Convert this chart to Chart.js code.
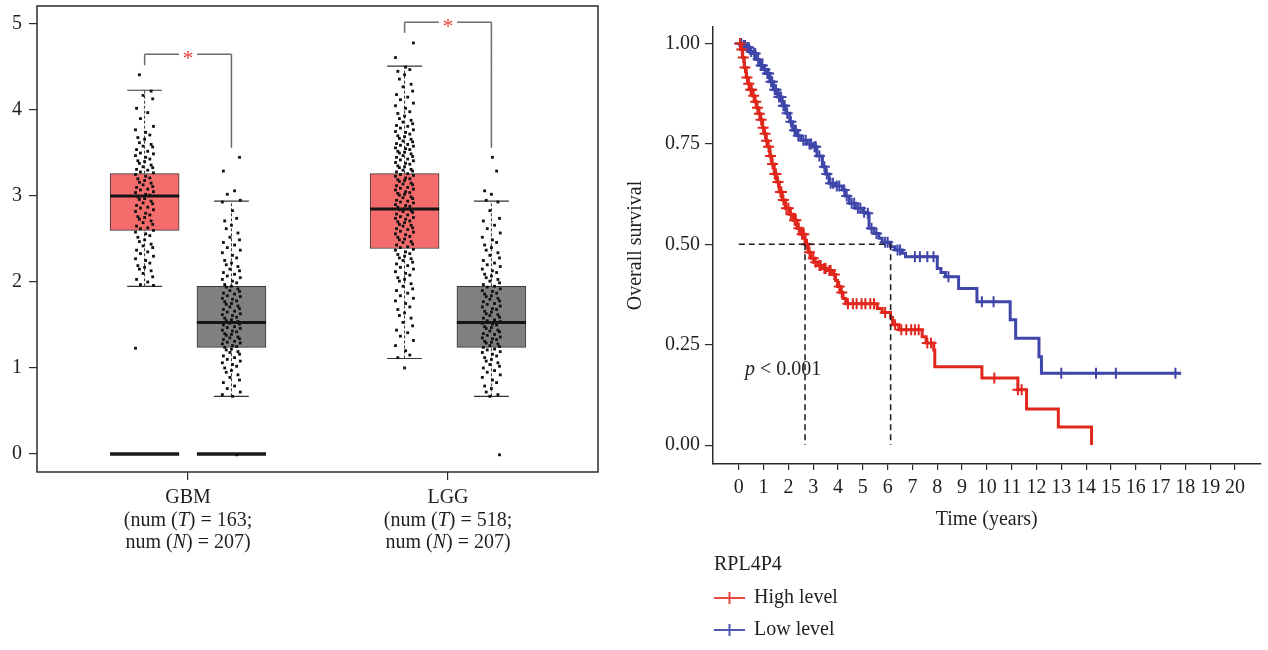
<!DOCTYPE html>
<html lang="en">
<head>
<meta charset="UTF-8">
<title>RPL4P4 expression and overall survival</title>
<script src="https://cdn.jsdelivr.net/npm/chart.js"></script>
<style>
  html, body { margin: 0; padding: 0; background: #fff; }
  body { width: 1268px; height: 650px; position: relative; overflow: hidden; }
  #box-wrap { position: absolute; left: 0; top: 0; width: 620px; height: 650px; }
  #km-wrap { position: absolute; left: 620px; top: 0; width: 648px; height: 650px; }
</style>
</head>
<body>
<div id="box-wrap"><canvas id="boxChart" width="620" height="650"></canvas></div>
<div id="km-wrap"><canvas id="kmChart" width="648" height="650"></canvas></div>

<script>
// ---- expression box plot (left) ----
const groups = ['GBM', 'LGG'];
const tumorCounts = [163, 518];
const normalCounts = [207, 207];
const exprTicks = [0, 1, 2, 3, 4, 5];

const tumorLow = [1.95, 1.11];
const tumorQ1 = [2.60, 2.39];
const tumorMedian = [3.00, 2.85];
const tumorQ3 = [3.26, 3.26];
const tumorHigh = [4.23, 4.51];

const normalLow = [0.67, 0.67];
const normalQ1 = [1.24, 1.24];
const normalMedian = [1.53, 1.53];
const normalQ3 = [1.95, 1.95];
const normalHigh = [2.94, 2.94];

const zeroFloor = [true, false];
const bracketTop = [4.65, 5.02];
const bracketTumorEnd = [4.52, 4.90];
const bracketNormalEnd = [3.56, 3.56];

const gbmTumorPoints = [4.41, 4.22, 4.17, 4.13, 4.02, 3.97, 3.9, 3.81, 3.77, 3.74, 3.71, 3.68, 3.66, 3.62, 3.6, 3.58,
  3.57, 3.54, 3.52, 3.5, 3.49, 3.47, 3.45, 3.43, 3.41, 3.4, 3.38, 3.36, 3.34, 3.33, 3.31, 3.3, 3.28, 3.27, 3.25, 3.23,
  3.21, 3.2, 3.18, 3.16, 3.15, 3.13, 3.11, 3.1, 3.08, 3.07, 3.05, 3.04, 3.02, 3.01, 2.99, 2.97, 2.96, 2.94, 2.92, 2.91,
  2.89, 2.87, 2.86, 2.84, 2.82, 2.8, 2.78, 2.76, 2.75, 2.73, 2.71, 2.69, 2.67, 2.65, 2.63, 2.62, 2.6, 2.58, 2.56, 2.54,
  2.52, 2.49, 2.47, 2.44, 2.42, 2.4, 2.37, 2.35, 2.33, 2.3, 2.27, 2.25, 2.22, 2.19, 2.17, 2.15, 2.13, 2.1, 2.06, 2.03,
  2.0, 1.97, 1.96, 1.23];

const lggTumorPoints = [4.78, 4.61, 4.5, 4.47, 4.45, 4.41, 4.36, 4.3, 4.27, 4.22, 4.18, 4.15, 4.12, 4.08, 4.05, 4.02,
  3.98, 3.96, 3.93, 3.9, 3.88, 3.86, 3.84, 3.82, 3.81, 3.79, 3.77, 3.75, 3.74, 3.72, 3.7, 3.69, 3.67, 3.66, 3.64, 3.63,
  3.61, 3.6, 3.59, 3.58, 3.56, 3.55, 3.54, 3.52, 3.51, 3.5, 3.49, 3.47, 3.46, 3.45, 3.43, 3.42, 3.41, 3.39, 3.38, 3.37,
  3.35, 3.34, 3.33, 3.31, 3.3, 3.29, 3.28, 3.26, 3.25, 3.24, 3.23, 3.21, 3.2, 3.19, 3.18, 3.17, 3.15, 3.14, 3.13, 3.12,
  3.1, 3.09, 3.08, 3.07, 3.05, 3.04, 3.03, 3.02, 3.01, 2.99, 2.98, 2.97, 2.95, 2.94, 2.93, 2.92, 2.9, 2.89, 2.88, 2.87,
  2.85, 2.84, 2.83, 2.82, 2.81, 2.79, 2.78, 2.76, 2.75, 2.74, 2.73, 2.71, 2.7, 2.69, 2.67, 2.66, 2.65, 2.63, 2.62, 2.61,
  2.59, 2.58, 2.56, 2.55, 2.53, 2.52, 2.5, 2.49, 2.47, 2.46, 2.44, 2.43, 2.41, 2.4, 2.38, 2.37, 2.35, 2.33, 2.32, 2.3,
  2.28, 2.27, 2.25, 2.23, 2.21, 2.19, 2.17, 2.15, 2.12, 2.1, 2.08, 2.05, 2.03, 2.01, 1.98, 1.95, 1.92, 1.9, 1.87, 1.84,
  1.81, 1.78, 1.75, 1.71, 1.68, 1.64, 1.61, 1.58, 1.53, 1.49, 1.44, 1.41, 1.37, 1.32, 1.26, 1.2, 1.15, 1.12, 1.0];

const normalPoints = [3.45, 3.29, 3.06, 3.02, 2.95, 2.93, 2.83, 2.74, 2.71, 2.66, 2.62, 2.57, 2.52, 2.49, 2.46, 2.43,
  2.4, 2.37, 2.34, 2.31, 2.28, 2.25, 2.22, 2.2, 2.18, 2.15, 2.13, 2.11, 2.09, 2.07, 2.05, 2.03, 2.01, 1.99, 1.97, 1.95,
  1.94, 1.92, 1.9, 1.89, 1.87, 1.86, 1.84, 1.83, 1.81, 1.8, 1.78, 1.77, 1.75, 1.74, 1.72, 1.71, 1.69, 1.68, 1.66, 1.65,
  1.63, 1.62, 1.61, 1.59, 1.58, 1.56, 1.55, 1.54, 1.52, 1.51, 1.5, 1.48, 1.47, 1.46, 1.44, 1.43, 1.42, 1.4, 1.39, 1.38,
  1.36, 1.35, 1.34, 1.33, 1.31, 1.3, 1.29, 1.28, 1.26, 1.25, 1.24, 1.22, 1.21, 1.19, 1.18, 1.16, 1.14, 1.12, 1.1, 1.08,
  1.06, 1.04, 1.02, 1.0, 0.97, 0.95, 0.92, 0.89, 0.86, 0.83, 0.79, 0.76, 0.72, 0.69, 0.67, -0.01];

// horizontal jitter of the dots (x units), cycled
const jitter = [-0.02, 0.025, -0.006, 0.031, -0.031, 0.012, -0.016, 0.034, -0.035, 0.004, 0.02, -0.026, 0.0];

// ---- survival curves (right) ----
const yearTicks = [0, 1, 2, 3, 4, 5, 6, 7, 8, 9, 10, 11, 12, 13, 14, 15, 16, 17, 18, 19, 20];
const survTicks = [0, 0.25, 0.5, 0.75, 1];

const highTime = [0, 0.08, 0.15, 0.22, 0.3, 0.38, 0.45, 0.55, 0.63, 0.72, 0.8, 0.88, 0.96, 1.03, 1.1, 1.17, 1.25, 1.33,
  1.43, 1.53, 1.63, 1.75, 1.88, 2.04, 2.2, 2.35, 2.5, 2.67, 2.8, 2.91, 3.05, 3.2, 3.37, 3.55, 3.78, 3.9, 3.98, 4.1, 4.2,
  4.31, 5.58, 5.78, 6.12, 6.2, 6.45, 7.39, 7.55, 7.86, 7.9, 9.8, 11.25, 11.6, 12.88, 14.22];
const highSurv = [1.0, 0.985, 0.965, 0.94, 0.915, 0.9, 0.885, 0.87, 0.855, 0.84, 0.825, 0.81, 0.79, 0.775, 0.758, 0.743,
  0.72, 0.7, 0.675, 0.655, 0.63, 0.61, 0.59, 0.575, 0.56, 0.54, 0.525, 0.5, 0.48, 0.465, 0.455, 0.447, 0.44, 0.435, 0.425,
  0.41, 0.395, 0.38, 0.365, 0.352, 0.34, 0.33, 0.318, 0.3, 0.287, 0.27, 0.254, 0.237, 0.195, 0.167, 0.138, 0.09, 0.045, 0];
const highCensor = [0.05, 0.12, 0.18, 0.25, 0.33, 0.4, 0.48, 0.52, 0.6, 0.68, 0.75, 0.83, 0.9, 0.98, 1.06, 1.12, 1.2,
  1.28, 1.36, 1.45, 1.5, 1.58, 1.68, 1.72, 1.8, 1.92, 2.0, 2.1, 2.25, 2.3, 2.42, 2.55, 2.62, 2.75, 2.85, 3.0, 3.1, 3.25,
  3.3, 3.45, 3.5, 3.65, 3.7, 3.85, 4.05, 4.15, 4.4, 4.6, 4.75, 4.95, 5.1, 5.3, 5.45, 5.9, 6.3, 6.55, 6.75, 6.95, 7.1,
  7.25, 7.6, 7.75, 10.3, 11.25, 11.4];

const lowTime = [0, 0.15, 0.3, 0.45, 0.56, 0.7, 0.85, 1.0, 1.1, 1.25, 1.4, 1.57, 1.75, 1.9, 2.05, 2.17, 2.35, 2.5, 2.75,
  2.97, 3.15, 3.37, 3.5, 3.64, 3.9, 4.18, 4.3, 4.45, 4.7, 5.0, 5.12, 5.25, 5.45, 5.65, 5.78, 6.12, 6.3, 6.59, 6.72, 8.0,
  8.15, 8.33, 8.86, 9.6, 10.94, 11.16, 12.1, 12.2, 17.83];
const lowSurv = [1.0, 0.995, 0.99, 0.98, 0.975, 0.96, 0.945, 0.935, 0.925, 0.905, 0.885, 0.867, 0.845, 0.826, 0.805,
  0.784, 0.77, 0.759, 0.75, 0.743, 0.72, 0.693, 0.675, 0.652, 0.645, 0.635, 0.62, 0.602, 0.59, 0.58, 0.577, 0.54, 0.527,
  0.515, 0.505, 0.494, 0.486, 0.478, 0.469, 0.44, 0.43, 0.419, 0.39, 0.357, 0.312, 0.266, 0.22, 0.179, 0.179];
const lowCensor = [0.05, 0.1, 0.2, 0.25, 0.35, 0.4, 0.5, 0.62, 0.66, 0.78, 0.9, 0.95, 1.05, 1.15, 1.2, 1.3, 1.35, 1.45,
  1.5, 1.62, 1.7, 1.8, 1.85, 1.95, 2.1, 2.25, 2.3, 2.4, 2.6, 2.7, 2.85, 2.92, 3.05, 3.1, 3.25, 3.45, 3.55, 3.7, 3.8,
  3.95, 4.05, 4.25, 4.35, 4.55, 4.65, 4.8, 4.9, 5.05, 5.2, 5.35, 5.55, 5.9, 6.0, 6.4, 6.5, 7.1, 7.3, 7.6, 7.85, 8.45,
  9.8, 10.27, 13.0, 14.4, 15.2, 17.6];

const medianTime = [2.67, 6.12];
const geneName = 'RPL4P4';
const seriesNames = ['High level', 'Low level'];
const pValueText = '< 0.001';

// ---- styling ----
const SERIF = "'Liberation Serif', 'Times New Roman', serif";
const INK = '#2b2b2b';
const TEXT = '#1f1f1f';
const TUMOR_FILL = '#f46c6c';
const NORMAL_FILL = '#808080';
const HIGH_RED = '#e1261c';
const LOW_BLUE = '#3f46aa';

Chart.defaults.font.family = SERIF;
Chart.defaults.font.size = 20;
Chart.defaults.color = TEXT;

const pairShift = 0.167, boxHalf = 0.133, capHalf = 0.067, starGap = 0.035;

function segments(list) {
  const out = [];
  list.forEach(([x0, y0, x1, y1]) => {
    out.push({ x: x0, y: y0 }, { x: x1, y: y1 }, { x: x1, y: null });
  });
  return out;
}

function jittered(values, cx, shift) {
  return values.map((v, k) => ({ x: cx + jitter[(k + shift) % jitter.length], y: v }));
}

function fixWidth(w) {
  return s => { s.width = w; s.paddingTop = 0; s.paddingBottom = 0; };
}
function fixHeight(h) {
  return s => { s.height = h; s.paddingLeft = 0; s.paddingRight = 0; };
}

// text runs: [string, italic]
function drawRuns(ctx, runs, cx, y) {
  const widths = runs.map(([s, it]) => {
    ctx.font = (it ? 'italic ' : '') + '20px ' + SERIF;
    return ctx.measureText(s).width;
  });
  let x = cx - widths.reduce((a, b) => a + b, 0) / 2;
  runs.forEach(([s, it], k) => {
    ctx.font = (it ? 'italic ' : '') + '20px ' + SERIF;
    ctx.fillText(s, x, y);
    x += widths[k];
  });
}

const boxData = [], boxColors = [];
const medianSegs = [], whiskerSegs = [], capSegs = [], floorSegs = [], bracketSegs = [];
groups.forEach((g, i) => {
  const c = i + 1, xt = c - pairShift, xn = c + pairShift;
  boxData.push({ x: xt, y: [tumorQ1[i], tumorQ3[i]] }, { x: xn, y: [normalQ1[i], normalQ3[i]] });
  boxColors.push(TUMOR_FILL, NORMAL_FILL);
  medianSegs.push([xt - boxHalf, tumorMedian[i], xt + boxHalf, tumorMedian[i]],
    [xn - boxHalf, normalMedian[i], xn + boxHalf, normalMedian[i]]);
  whiskerSegs.push([xt, tumorQ3[i], xt, tumorHigh[i]], [xt, tumorLow[i], xt, tumorQ1[i]],
    [xn, normalQ3[i], xn, normalHigh[i]], [xn, normalLow[i], xn, normalQ1[i]]);
  capSegs.push([xt - capHalf, tumorHigh[i], xt + capHalf, tumorHigh[i]], [xt - capHalf, tumorLow[i], xt + capHalf, tumorLow[i]],
    [xn - capHalf, normalHigh[i], xn + capHalf, normalHigh[i]], [xn - capHalf, normalLow[i], xn + capHalf, normalLow[i]]);
  if (zeroFloor[i]) {
    floorSegs.push([xt - boxHalf, 0, xt + boxHalf, 0], [xn - boxHalf, 0, xn + boxHalf, 0]);
  }
  bracketSegs.push([xt, bracketTumorEnd[i], xt, bracketTop[i]], [xt, bracketTop[i], c - starGap, bracketTop[i]],
    [c + starGap, bracketTop[i], xn, bracketTop[i]], [xn, bracketTop[i], xn, bracketNormalEnd[i]]);
});

const dots = [].concat(
  jittered(gbmTumorPoints, 1 - pairShift, 0),
  jittered(normalPoints, 1 + pairShift, 3),
  jittered(lggTumorPoints, 2 - pairShift, 7),
  jittered(normalPoints, 2 + pairShift, 9)
);

function segLine(data, color, width, dash, order) {
  return {
    type: 'line', data, borderColor: color, borderWidth: width, borderDash: dash || [],
    pointRadius: 0, spanGaps: false, fill: false, tension: 0, order
  };
}

const boxFrame = {
  id: 'boxFrame',
  afterDraw(chart) {
    const { ctx, chartArea: a, scales: { x, y } } = chart;
    ctx.save();
    ctx.strokeStyle = INK;
    ctx.lineWidth = 1.5;
    ctx.strokeRect(a.left, a.top, a.right - a.left, a.bottom - a.top);

    ctx.fillStyle = '#e8413c';
    ctx.font = '22px ' + SERIF;
    ctx.textAlign = 'center';
    ctx.textBaseline = 'alphabetic';
    groups.forEach((g, i) => {
      ctx.fillText('*', x.getPixelForValue(i + 1), y.getPixelForValue(bracketTop[i]) + 11);
    });

    // group labels with italic T / N
    ctx.fillStyle = TEXT;
    ctx.textAlign = 'left';
    ctx.textBaseline = 'middle';
    groups.forEach((g, i) => {
      const cx = x.getPixelForValue(i + 1);
      const y0 = a.bottom + 26;
      drawRuns(ctx, [[g, false]], cx, y0);
      drawRuns(ctx, [['(num (', false], ['T', true], [') = ' + tumorCounts[i] + ';', false]], cx, y0 + 22.5);
      drawRuns(ctx, [['num (', false], ['N', true], [') = ' + normalCounts[i] + ')', false]], cx, y0 + 45);
    });
    ctx.restore();
  }
};

new Chart(document.getElementById('boxChart'), {
  type: 'bar',
  data: {
    datasets: [
      {
        type: 'bar', data: boxData, backgroundColor: boxColors, borderColor: '#3a3a3a', borderWidth: 1,
        borderSkipped: false, barThickness: 69, order: 6
      },
      segLine(segments(floorSegs), '#1a1a1a', 3.5, null, 5),
      segLine(segments(whiskerSegs), '#333', 1, [3, 2], 4),
      segLine(segments(capSegs), '#333', 1.2, null, 4),
      segLine(segments(bracketSegs), '#6b6b6b', 1.5, null, 4),
      {
        type: 'scatter', data: dots, pointStyle: 'rect', pointRadius: 2, pointBackgroundColor: '#111',
        pointBorderWidth: 0, borderColor: '#111', order: 2
      },
      segLine(segments(medianSegs), '#151515', 3, null, 1)
    ]
  },
  options: {
    responsive: false,
    animation: false,
    events: [],
    devicePixelRatio: 1,
    layout: { padding: { left: 0, right: 22, top: 6, bottom: 0 } },
    plugins: { legend: { display: false }, tooltip: { enabled: false } },
    scales: {
      x: {
        type: 'linear', min: 0.419, max: 2.577, offset: false,
        border: { display: false },
        grid: { drawOnChartArea: false, offset: false, drawTicks: true, tickLength: 8, color: INK, lineWidth: 1.2 },
        afterBuildTicks: s => { s.ticks = groups.map((g, i) => ({ value: i + 1 })); },
        afterFit: fixHeight(178),
        ticks: { display: false }
      },
      y: {
        type: 'linear', min: -0.21, max: 5.21,
        border: { display: false },
        grid: { drawOnChartArea: false, drawTicks: true, tickLength: 8, color: INK, lineWidth: 1.2 },
        afterBuildTicks: s => { s.ticks = exprTicks.map(v => ({ value: v })); },
        afterFit: fixWidth(37),
        ticks: { padding: 7, color: TEXT, font: { size: 20 } }
      }
    }
  },
  plugins: [boxFrame]
});

// ---- Kaplan-Meier ----
function survAt(times, surv, t) {
  let s = surv[0];
  for (let i = 0; i < times.length; i++) if (times[i] <= t) s = surv[i];
  return s;
}
const highLine = highTime.map((t, i) => ({ x: t, y: highSurv[i] }));
const lowLine = lowTime.map((t, i) => ({ x: t, y: lowSurv[i] }));
const highMarks = highCensor.map(t => ({ x: t, y: survAt(highTime, highSurv, t) }));
const lowMarks = lowCensor.map(t => ({ x: t, y: survAt(lowTime, lowSurv, t) }));
const medianSegs2 = [[0, 0.5, medianTime[1], 0.5]].concat(medianTime.map(m => [m, 0.5, m, 0]));

const kmNotes = {
  id: 'kmNotes',
  afterDraw(chart) {
    const { ctx, chartArea: a, scales: { x, y } } = chart;
    ctx.save();
    ctx.fillStyle = TEXT;
    ctx.textAlign = 'left';
    ctx.textBaseline = 'middle';
    const px = x.getPixelForValue(0.25), py = y.getPixelForValue(0.187);
    ctx.font = 'italic 20px ' + SERIF;
    ctx.fillText('p', px, py);
    const pw = ctx.measureText('p ').width;
    ctx.font = '20px ' + SERIF;
    ctx.fillText(pValueText, px + pw, py);

    const lx = a.left + 1;
    ctx.fillText(geneName, lx, 565);
    ['#e8473f', '#5259b4'].forEach((col, i) => {
      const ly = 598 + i * 32;
      ctx.strokeStyle = col;
      ctx.lineWidth = 2;
      ctx.beginPath();
      ctx.moveTo(lx, ly); ctx.lineTo(lx + 31, ly);
      ctx.moveTo(lx + 15.5, ly - 6); ctx.lineTo(lx + 15.5, ly + 6);
      ctx.stroke();
      ctx.fillText(seriesNames[i], lx + 40, ly);
    });
    ctx.restore();
  }
};

function censorSet(data, color) {
  return {
    type: 'scatter', data, pointStyle: 'cross', pointRadius: 5.5, pointBorderWidth: 2,
    pointBorderColor: color, borderColor: color, showLine: false
  };
}

new Chart(document.getElementById('kmChart'), {
  type: 'line',
  data: {
    datasets: [
      {
        data: highLine, borderColor: HIGH_RED, borderWidth: 3, stepped: 'before', pointRadius: 0, fill: false
      },
      censorSet(highMarks, HIGH_RED),
      {
        data: lowLine, borderColor: LOW_BLUE, borderWidth: 3, stepped: 'before', pointRadius: 0, fill: false
      },
      censorSet(lowMarks, LOW_BLUE),
      segLine(segments(medianSegs2), '#222', 1.6, [6, 4], -1)
    ]
  },
  options: {
    responsive: false,
    animation: false,
    events: [],
    devicePixelRatio: 1,
    layout: { padding: { left: 0, right: 5, top: 27, bottom: 106 } },
    plugins: { legend: { display: false }, tooltip: { enabled: false } },
    scales: {
      x: {
        type: 'linear', min: -1.04, max: 21.03,
        border: { display: true, color: INK, width: 1.5 },
        grid: { drawOnChartArea: false, drawTicks: true, tickLength: 6, color: INK, lineWidth: 1.2 },
        afterBuildTicks: s => { s.ticks = yearTicks.map(v => ({ value: v })); },
        afterFit: fixHeight(80),
        ticks: { autoSkip: false, maxRotation: 0, padding: 6, color: TEXT, font: { size: 20 } },
        title: { display: true, text: 'Time (years)', color: TEXT, font: { size: 20 }, padding: { top: 0, bottom: 12 } }
      },
      y: {
        type: 'linear', min: -0.047, max: 1.041,
        border: { display: true, color: INK, width: 1.5 },
        grid: { drawOnChartArea: false, drawTicks: true, tickLength: 8, color: INK, lineWidth: 1.2 },
        afterBuildTicks: s => { s.ticks = survTicks.map(v => ({ value: v })); },
        afterFit: fixWidth(93),
        ticks: { padding: 5, color: TEXT, font: { size: 20 }, callback: v => v.toFixed(2) },
        title: { display: true, text: 'Overall survival', color: TEXT, font: { size: 20 }, padding: { top: 4, bottom: 0 } }
      }
    }
  },
  plugins: [kmNotes]
});
</script>
</body>
</html>
